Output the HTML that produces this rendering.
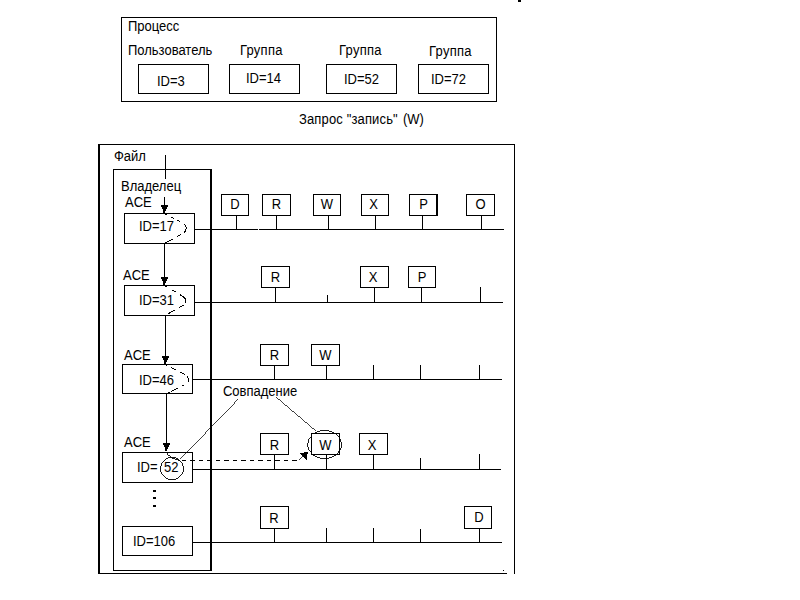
<!DOCTYPE html>
<html><head><meta charset="utf-8"><style>
html,body{margin:0;padding:0;background:#fff;}
body{width:800px;height:600px;overflow:hidden;}
svg{display:block;}
text{font-family:"Liberation Sans",sans-serif;font-size:13px;fill:#000;}
.s{fill:none;stroke:#000;stroke-width:0.9;shape-rendering:crispEdges;}
.t{fill:none;stroke:#000;stroke-width:0.75;shape-rendering:crispEdges;}
.d{fill:none;stroke:#000;stroke-width:1;shape-rendering:crispEdges;}
.d2{fill:none;stroke:#000;stroke-width:1;stroke-dasharray:4.5 4;shape-rendering:crispEdges;}
</style></head><body>
<svg width="800" height="600" viewBox="0 0 800 600">
<g fill="#000" shape-rendering="crispEdges">
<rect x="518" y="0" width="3" height="2"/>
<rect x="121" y="17" width="376" height="1"/>
<rect x="121" y="101" width="376" height="1"/>
<rect x="121" y="17" width="1" height="85"/>
<rect x="496" y="17" width="1" height="85"/>
<rect x="138" y="64" width="71" height="1"/>
<rect x="138" y="93" width="71" height="1"/>
<rect x="138" y="64" width="1" height="30"/>
<rect x="208" y="64" width="1" height="30"/>
<rect x="229" y="64" width="71" height="1"/>
<rect x="229" y="93" width="71" height="1"/>
<rect x="229" y="64" width="1" height="30"/>
<rect x="299" y="64" width="1" height="30"/>
<rect x="326" y="64" width="71" height="1"/>
<rect x="326" y="93" width="71" height="1"/>
<rect x="326" y="64" width="1" height="30"/>
<rect x="396" y="64" width="1" height="30"/>
<rect x="418" y="64" width="71" height="1"/>
<rect x="418" y="93" width="71" height="1"/>
<rect x="418" y="64" width="1" height="30"/>
<rect x="488" y="64" width="1" height="30"/>
<rect x="98" y="144" width="2" height="430"/>
<rect x="98" y="144" width="417" height="1"/>
<rect x="514" y="144" width="1" height="430"/>
<rect x="98" y="573" width="409" height="1"/>
<rect x="113" y="169" width="1" height="402"/>
<rect x="210" y="169" width="2" height="402"/>
<rect x="113" y="169" width="99" height="1"/>
<rect x="113" y="570" width="99" height="1"/>
<rect x="124" y="213" width="71" height="1"/>
<rect x="124" y="243" width="71" height="1"/>
<rect x="124" y="213" width="1" height="31"/>
<rect x="194" y="213" width="1" height="31"/>
<rect x="124" y="285" width="71" height="1"/>
<rect x="124" y="315" width="71" height="1"/>
<rect x="124" y="285" width="1" height="31"/>
<rect x="194" y="285" width="1" height="31"/>
<rect x="122" y="364" width="71" height="1"/>
<rect x="122" y="393" width="71" height="1"/>
<rect x="122" y="364" width="1" height="30"/>
<rect x="192" y="364" width="1" height="30"/>
<rect x="122" y="452" width="71" height="1"/>
<rect x="122" y="482" width="71" height="1"/>
<rect x="122" y="452" width="1" height="31"/>
<rect x="192" y="452" width="1" height="31"/>
<rect x="122" y="526" width="71" height="1"/>
<rect x="122" y="555" width="71" height="1"/>
<rect x="122" y="526" width="1" height="30"/>
<rect x="192" y="526" width="1" height="30"/>
<rect x="165" y="155" width="1" height="24"/>
<rect x="164" y="197" width="1" height="9"/>
<rect x="161" y="205" width="7" height="2"/>
<rect x="162" y="207" width="5" height="2"/>
<rect x="163" y="209" width="3" height="2"/>
<rect x="163" y="211" width="2" height="2"/>
<rect x="164" y="243" width="1" height="35"/>
<rect x="161" y="277" width="7" height="2"/>
<rect x="162" y="279" width="5" height="2"/>
<rect x="163" y="281" width="3" height="2"/>
<rect x="163" y="283" width="2" height="2"/>
<rect x="165" y="316" width="1" height="41"/>
<rect x="162" y="356" width="7" height="2"/>
<rect x="163" y="358" width="5" height="2"/>
<rect x="164" y="360" width="3" height="2"/>
<rect x="164" y="362" width="2" height="2"/>
<rect x="166" y="394" width="1" height="50"/>
<rect x="163" y="443" width="7" height="2"/>
<rect x="164" y="445" width="5" height="2"/>
<rect x="165" y="447" width="3" height="2"/>
<rect x="165" y="449" width="2" height="2"/>
<rect x="153" y="490" width="3" height="2"/>
<rect x="153" y="497" width="3" height="2"/>
<rect x="153" y="505" width="3" height="2"/>
<rect x="195" y="229" width="309" height="1"/>
<rect x="195" y="302" width="308" height="1"/>
<rect x="193" y="379" width="309" height="1"/>
<rect x="193" y="469" width="308" height="1"/>
<rect x="193" y="542" width="309" height="1"/>
<rect x="221" y="194" width="28" height="1"/>
<rect x="221" y="215" width="28" height="1"/>
<rect x="221" y="194" width="1" height="22"/>
<rect x="248" y="194" width="1" height="22"/>
<rect x="236" y="215" width="1" height="14"/>
<rect x="262" y="194" width="29" height="1"/>
<rect x="262" y="215" width="29" height="1"/>
<rect x="262" y="194" width="1" height="22"/>
<rect x="290" y="194" width="1" height="22"/>
<rect x="276" y="215" width="1" height="14"/>
<rect x="313" y="194" width="28" height="1"/>
<rect x="313" y="215" width="28" height="1"/>
<rect x="313" y="194" width="1" height="22"/>
<rect x="340" y="194" width="1" height="22"/>
<rect x="328" y="215" width="1" height="14"/>
<rect x="361" y="194" width="28" height="1"/>
<rect x="361" y="215" width="28" height="1"/>
<rect x="361" y="194" width="1" height="22"/>
<rect x="388" y="194" width="1" height="22"/>
<rect x="375" y="215" width="1" height="14"/>
<rect x="409" y="194" width="29" height="1"/>
<rect x="409" y="215" width="29" height="1"/>
<rect x="409" y="194" width="1" height="22"/>
<rect x="437" y="194" width="1" height="22"/>
<rect x="422" y="215" width="1" height="14"/>
<rect x="466" y="194" width="29" height="1"/>
<rect x="466" y="215" width="29" height="1"/>
<rect x="466" y="194" width="1" height="22"/>
<rect x="494" y="194" width="1" height="22"/>
<rect x="481" y="215" width="1" height="14"/>
<rect x="261" y="266" width="29" height="1"/>
<rect x="261" y="287" width="29" height="1"/>
<rect x="261" y="266" width="1" height="22"/>
<rect x="289" y="266" width="1" height="22"/>
<rect x="275" y="287" width="1" height="15"/>
<rect x="360" y="266" width="29" height="1"/>
<rect x="360" y="287" width="29" height="1"/>
<rect x="360" y="266" width="1" height="22"/>
<rect x="388" y="266" width="1" height="22"/>
<rect x="374" y="287" width="1" height="15"/>
<rect x="408" y="266" width="28" height="1"/>
<rect x="408" y="287" width="28" height="1"/>
<rect x="408" y="266" width="1" height="22"/>
<rect x="435" y="266" width="1" height="22"/>
<rect x="421" y="287" width="1" height="15"/>
<rect x="327" y="295" width="1" height="7"/>
<rect x="480" y="287" width="1" height="15"/>
<rect x="436" y="194" width="2" height="22"/>
<rect x="258" y="229" width="1" height="1" fill="#fff"/>
<rect x="260" y="344" width="29" height="1"/>
<rect x="260" y="365" width="29" height="1"/>
<rect x="260" y="344" width="1" height="22"/>
<rect x="288" y="344" width="1" height="22"/>
<rect x="274" y="365" width="1" height="14"/>
<rect x="311" y="344" width="29" height="1"/>
<rect x="311" y="365" width="29" height="1"/>
<rect x="311" y="344" width="1" height="22"/>
<rect x="339" y="344" width="1" height="22"/>
<rect x="326" y="365" width="1" height="14"/>
<rect x="373" y="365" width="1" height="14"/>
<rect x="420" y="365" width="1" height="14"/>
<rect x="479" y="365" width="1" height="14"/>
<rect x="260" y="433" width="29" height="1"/>
<rect x="260" y="454" width="29" height="1"/>
<rect x="260" y="433" width="1" height="22"/>
<rect x="288" y="433" width="1" height="22"/>
<rect x="274" y="454" width="1" height="15"/>
<rect x="311" y="433" width="29" height="1"/>
<rect x="311" y="454" width="29" height="1"/>
<rect x="311" y="433" width="1" height="22"/>
<rect x="339" y="433" width="1" height="22"/>
<rect x="326" y="454" width="1" height="15"/>
<rect x="359" y="433" width="29" height="1"/>
<rect x="359" y="454" width="29" height="1"/>
<rect x="359" y="433" width="1" height="22"/>
<rect x="387" y="433" width="1" height="22"/>
<rect x="373" y="454" width="1" height="15"/>
<rect x="420" y="458" width="1" height="11"/>
<rect x="479" y="454" width="1" height="15"/>
<rect x="260" y="506" width="29" height="1"/>
<rect x="260" y="528" width="29" height="1"/>
<rect x="260" y="506" width="1" height="23"/>
<rect x="288" y="506" width="1" height="23"/>
<rect x="274" y="528" width="1" height="14"/>
<rect x="464" y="506" width="28" height="1"/>
<rect x="464" y="528" width="28" height="1"/>
<rect x="464" y="506" width="1" height="23"/>
<rect x="491" y="506" width="1" height="23"/>
<rect x="479" y="528" width="1" height="14"/>
<rect x="326" y="528" width="1" height="14"/>
<rect x="373" y="528" width="1" height="14"/>
<rect x="420" y="529" width="1" height="13"/>
<polygon points="308,451.5 300,453.5 306.5,460"/>
<rect x="503" y="570" width="1" height="1"/>
</g>
<g>
<path class="d" stroke-dasharray="2.5 4.5 3.5 4 3 4.5 10 4 4.5 4.5 9 20" d="M164.5,213.5 L183.5,223.5 Q188.5,227 184.5,232.5 L165.5,243"/>
<path class="d" stroke-dasharray="3.6 5.4 3.6 5.4 11 2.5 6 4 8 20" d="M164.5,285.5 L183,296.5 Q188.5,300.5 184,305 L165,315.5"/>
<path class="d" stroke-dasharray="1.5 4.7 5.3 4.8 5.2 3 6.5 4.5 3 4.5 7.7 1.5 3 20" d="M165.5,364.5 L185,374.5 Q190,378 188,383 L167,393.5"/>
<ellipse class="s" cx="172" cy="468.5" rx="11.5" ry="11.2"/>
<path class="s" d="M166.5,452 Q169,458.5 180,460.5"/>
<path class="d2" d="M181.5,460.5 L299,460.5"/>
<path class="t" d="M299,460 L304,455"/>
<ellipse class="s" cx="324.6" cy="444.5" rx="17" ry="14"/>
<path class="t" d="M180.2,459.2 L238.2,399.2"/>
<path class="t" d="M276,397 L316,431"/>
</g>
<g>
<text x="128" y="31" text-anchor="start" transform="translate(0,31) scale(1,1.07) translate(0,-31)">Процесс</text>
<text x="128" y="55" text-anchor="start" transform="translate(0,55) scale(1,1.07) translate(0,-55)">Пользователь</text>
<text x="240" y="55" text-anchor="start" transform="translate(0,55) scale(1,1.07) translate(0,-55)" letter-spacing="0.25">Группа</text>
<text x="339" y="55" text-anchor="start" transform="translate(0,55) scale(1,1.07) translate(0,-55)" letter-spacing="0.25">Группа</text>
<text x="429" y="56" text-anchor="start" transform="translate(0,56) scale(1,1.07) translate(0,-56)" letter-spacing="0.25">Группа</text>
<text x="157" y="86" text-anchor="start" transform="translate(0,86) scale(1,1.07) translate(0,-86)">ID=3</text>
<text x="246" y="83" text-anchor="start" transform="translate(0,83) scale(1,1.07) translate(0,-83)">ID=14</text>
<text x="344" y="84" text-anchor="start" transform="translate(0,84) scale(1,1.07) translate(0,-84)">ID=52</text>
<text x="431" y="84" text-anchor="start" transform="translate(0,84) scale(1,1.07) translate(0,-84)">ID=72</text>
<text x="299" y="124" text-anchor="start" transform="translate(0,124) scale(1,1.13) translate(0,-124)" letter-spacing="0.15">Запрос &quot;запись&quot;</text>
<text x="403" y="124" text-anchor="start" transform="translate(0,124) scale(1,1.13) translate(0,-124)">(W)</text>
<text x="114" y="161" text-anchor="start" transform="translate(0,161) scale(1,1.07) translate(0,-161)">Файл</text>
<text x="121" y="191" text-anchor="start" transform="translate(0,191) scale(1,1.07) translate(0,-191)">Владелец</text>
<text x="125" y="207" text-anchor="start" transform="translate(0,207) scale(1,1.07) translate(0,-207)">ACE</text>
<text x="139" y="231" text-anchor="start" transform="translate(0,231) scale(1,1.07) translate(0,-231)">ID=17</text>
<text x="123" y="280" text-anchor="start" transform="translate(0,280) scale(1,1.07) translate(0,-280)">ACE</text>
<text x="139" y="305" text-anchor="start" transform="translate(0,305) scale(1,1.07) translate(0,-305)">ID=31</text>
<text x="124" y="360" text-anchor="start" transform="translate(0,360) scale(1,1.07) translate(0,-360)">ACE</text>
<text x="139" y="385" text-anchor="start" transform="translate(0,385) scale(1,1.07) translate(0,-385)">ID=46</text>
<text x="124" y="447" text-anchor="start" transform="translate(0,447) scale(1,1.07) translate(0,-447)">ACE</text>
<text x="137" y="472" text-anchor="start" transform="translate(0,472) scale(1,1.07) translate(0,-472)">ID=</text>
<text x="164" y="472" text-anchor="start" transform="translate(0,472) scale(1,1.07) translate(0,-472)">52</text>
<text x="133" y="546" text-anchor="start" transform="translate(0,546) scale(1,1.07) translate(0,-546)">ID=106</text>
<text x="235.0" y="209" text-anchor="middle" transform="translate(0,209) scale(1,1.07) translate(0,-209)">D</text>
<text x="276.5" y="209" text-anchor="middle" transform="translate(0,209) scale(1,1.07) translate(0,-209)">R</text>
<text x="327.0" y="209" text-anchor="middle" transform="translate(0,209) scale(1,1.07) translate(0,-209)">W</text>
<text x="373.5" y="209" text-anchor="middle" transform="translate(0,209) scale(1,1.07) translate(0,-209)">X</text>
<text x="423.5" y="209" text-anchor="middle" transform="translate(0,209) scale(1,1.07) translate(0,-209)">P</text>
<text x="480.5" y="209" text-anchor="middle" transform="translate(0,209) scale(1,1.07) translate(0,-209)">O</text>
<text x="275.5" y="282" text-anchor="middle" transform="translate(0,282) scale(1,1.07) translate(0,-282)">R</text>
<text x="373.0" y="282" text-anchor="middle" transform="translate(0,282) scale(1,1.07) translate(0,-282)">X</text>
<text x="422.0" y="282" text-anchor="middle" transform="translate(0,282) scale(1,1.07) translate(0,-282)">P</text>
<text x="274.5" y="360" text-anchor="middle" transform="translate(0,360) scale(1,1.07) translate(0,-360)">R</text>
<text x="325.5" y="360" text-anchor="middle" transform="translate(0,360) scale(1,1.07) translate(0,-360)">W</text>
<text x="274.5" y="450" text-anchor="middle" transform="translate(0,450) scale(1,1.07) translate(0,-450)">R</text>
<text x="325.5" y="450" text-anchor="middle" transform="translate(0,450) scale(1,1.07) translate(0,-450)">W</text>
<text x="372.0" y="450" text-anchor="middle" transform="translate(0,450) scale(1,1.07) translate(0,-450)">X</text>
<text x="274.0" y="523" text-anchor="middle" transform="translate(0,523) scale(1,1.07) translate(0,-523)">R</text>
<text x="479.0" y="522" text-anchor="middle" transform="translate(0,522) scale(1,1.07) translate(0,-522)">D</text>
<text x="223" y="396" text-anchor="start" transform="translate(0,396) scale(1,1.07) translate(0,-396)">Совпадение</text>
</g>
</svg>
</body></html>
